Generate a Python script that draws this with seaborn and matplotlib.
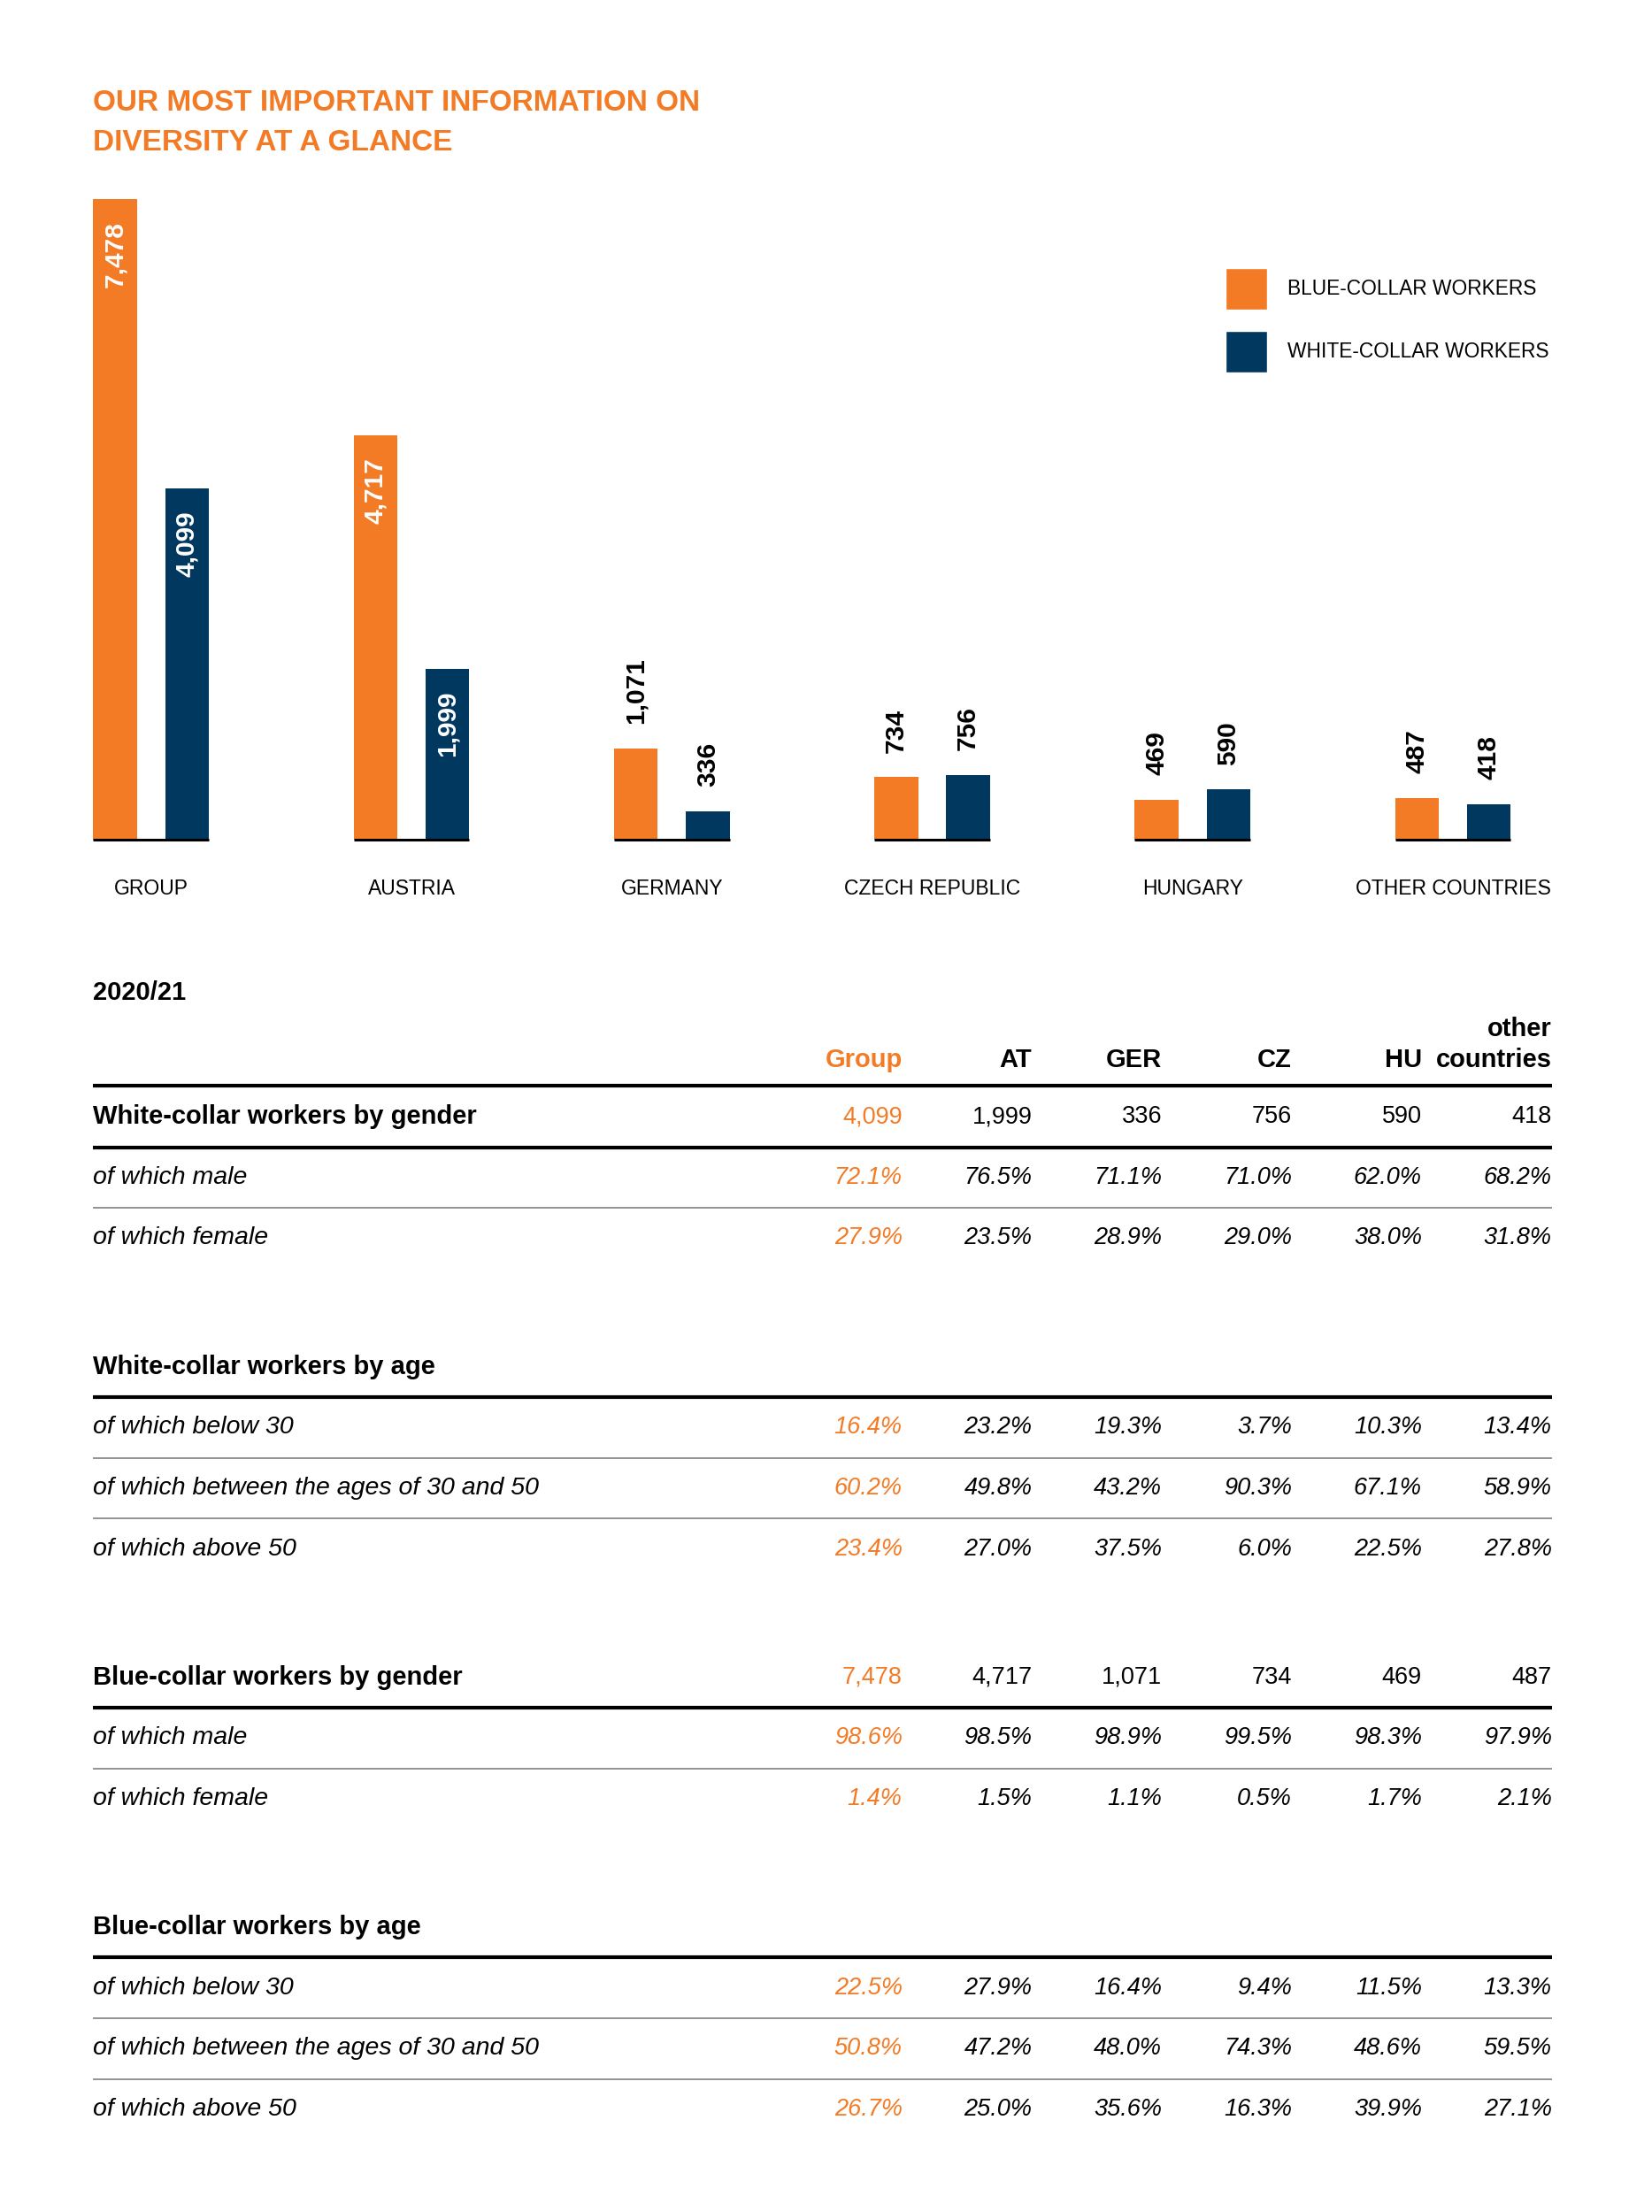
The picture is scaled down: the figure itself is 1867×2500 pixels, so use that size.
"""Diversity at a glance: headcount bars plus breakdown table."""
import matplotlib.pyplot as plt
import pandas as pd
import seaborn as sns
from matplotlib.patches import Patch

ORANGE = "#F37B25"
NAVY = "#00385F"

countries = ["GROUP", "AUSTRIA", "GERMANY", "CZECH REPUBLIC", "HUNGARY", "OTHER COUNTRIES"]
blue_collar = [7478, 4717, 1071, 734, 469, 487]
white_collar = [4099, 1999, 336, 756, 590, 418]

columns = ["Group", "AT", "GER", "CZ", "HU", "other\ncountries"]
wc_male = [72.1, 76.5, 71.1, 71.0, 62.0, 68.2]
wc_female = [27.9, 23.5, 28.9, 29.0, 38.0, 31.8]
wc_below30 = [16.4, 23.2, 19.3, 3.7, 10.3, 13.4]
wc_30to50 = [60.2, 49.8, 43.2, 90.3, 67.1, 58.9]
wc_above50 = [23.4, 27.0, 37.5, 6.0, 22.5, 27.8]
bc_male = [98.6, 98.5, 98.9, 99.5, 98.3, 97.9]
bc_female = [1.4, 1.5, 1.1, 0.5, 1.7, 2.1]
bc_below30 = [22.5, 27.9, 16.4, 9.4, 11.5, 13.3]
bc_30to50 = [50.8, 47.2, 48.0, 74.3, 48.6, 59.5]
bc_above50 = [26.7, 25.0, 35.6, 16.3, 39.9, 27.1]

sections = [
    ("White-collar workers by gender", white_collar,
     [("of which male", wc_male), ("of which female", wc_female)]),
    ("White-collar workers by age", None,
     [("of which below 30", wc_below30),
      ("of which between the ages of 30 and 50", wc_30to50),
      ("of which above 50", wc_above50)]),
    ("Blue-collar workers by gender", blue_collar,
     [("of which male", bc_male), ("of which female", bc_female)]),
    ("Blue-collar workers by age", None,
     [("of which below 30", bc_below30),
      ("of which between the ages of 30 and 50", bc_30to50),
      ("of which above 50", bc_above50)]),
]

sns.set_theme(style="white")
plt.rcParams["font.family"] = ["Liberation Sans", "DejaVu Sans"]
plt.rcParams["text.color"] = "black"

W = 1170  # layout units across the page
H = W * 2500 / 1867
fig = plt.figure(figsize=(18.67, 25), dpi=100)

# ---- bar chart -------------------------------------------------------
pitch = 184.4
first_center = 107
base_y, top_y = 595, 141
ax = fig.add_axes([0, 1 - base_y / H, 1, (base_y - top_y) / H])
ax.patch.set_alpha(0)

df = pd.DataFrame({
    "country": countries * 2,
    "type": ["BLUE-COLLAR WORKERS"] * 6 + ["WHITE-COLLAR WORKERS"] * 6,
    "value": blue_collar + white_collar,
})
sns.barplot(data=df, x="country", y="value", hue="type", palette=[ORANGE, NAVY],
            saturation=1, width=0.553, gap=0.392, errorbar=None, legend=False,
            linewidth=0, ax=ax)
ax.set_xlim(-first_center / pitch, (W - first_center) / pitch)
ax.set_ylim(0, max(blue_collar))
ax.set_xlabel("")
ax.set_ylabel("")
ax.set_yticks([])
ax.tick_params(axis="x", length=0, pad=31, labelsize=16.5, labelcolor="black")
sns.despine(ax=ax, left=True, bottom=True)

for container in ax.containers:
    for bar in container:
        h = bar.get_height()
        xc = bar.get_x() + bar.get_width() / 2
        if h >= 1500:
            ax.annotate(f"{h:,.0f}", (xc, h), xytext=(0, -18), textcoords="offset points",
                        rotation=90, ha="center", va="top", color="white",
                        fontweight="bold", fontsize=21.5, annotation_clip=False)
        else:
            ax.annotate(f"{h:,.0f}", (xc, h), xytext=(0, 20), textcoords="offset points",
                        rotation=90, ha="center", va="bottom", color="black",
                        fontweight="bold", fontsize=21.5, annotation_clip=False)

# black baseline under each pair of bars
for i in range(len(countries)):
    lefts = [c[i].get_x() for c in ax.containers]
    rights = [c[i].get_x() + c[i].get_width() for c in ax.containers]
    ax.hlines(0, min(lefts), max(rights), color="black", lw=2.2, clip_on=False)

handles = [Patch(facecolor=ORANGE), Patch(facecolor=NAVY)]
ax.legend(handles, ["BLUE-COLLAR WORKERS", "WHITE-COLLAR WORKERS"],
          loc="upper left", bbox_to_anchor=(868 / W, 1 - 190 / H),
          bbox_transform=fig.transFigure, frameon=False, fontsize=16.4,
          handlelength=2.05, handleheight=2.8, handletextpad=1.0,
          labelspacing=1.05, borderpad=0, borderaxespad=0)

# ---- title and table -------------------------------------------------
tx = fig.add_axes([0, 0, 1, 1])
tx.set_xlim(0, W)
tx.set_ylim(H, 0)
tx.axis("off")
tx.patch.set_alpha(0)

tx.text(66, 73, "OUR MOST IMPORTANT INFORMATION ON", color=ORANGE, fontsize=24,
        fontweight="bold", va="center", ha="left")
tx.text(66, 101, "DIVERSITY AT A GLANCE", color=ORANGE, fontsize=24,
        fontweight="bold", va="center", ha="left")

FS_NUM = 19.5     # numbers
FS_BOLD = 21      # bold labels and headers
FS_ITAL = 20.5    # italic row labels
left_x, right_x = 66, 1099
col_x = [639, 731, 823, 915, 1007, 1099]

tx.text(left_x, 703, "2020/21", fontsize=FS_BOLD, fontweight="bold", va="center")
for j, (cx, name) in enumerate(zip(col_x, columns)):
    color = ORANGE if j == 0 else "black"
    lines = name.split("\n")
    for k, part in enumerate(reversed(lines)):
        tx.text(cx, 751 - 22 * k, part, fontsize=FS_BOLD, fontweight="bold", color=color,
                ha="right", va="center")
tx.hlines(769, left_x, right_x, color="black", lw=3)

y = 791
step = 43
for title, totals, rows in sections:
    tx.text(left_x, y, title, fontsize=FS_BOLD, fontweight="bold", va="center")
    if totals is not None:
        for j, (cx, v) in enumerate(zip(col_x, totals)):
            tx.text(cx, y, f"{v:,}", fontsize=FS_NUM, ha="right", va="center",
                    color=ORANGE if j == 0 else "black")
    tx.hlines(y + step / 2, left_x, right_x, color="black", lw=3)
    for r, (label, vals) in enumerate(rows):
        ry = y + step * (r + 1)
        tx.text(left_x, ry, label, fontsize=FS_ITAL, fontstyle="italic", va="center")
        for j, (cx, v) in enumerate(zip(col_x, vals)):
            tx.text(cx, ry, f"{v:.1f}%", fontsize=FS_NUM, fontstyle="italic", ha="right",
                    va="center", color=ORANGE if j == 0 else "black")
        if r < len(rows) - 1:
            tx.hlines(ry + step / 2, left_x, right_x, color="#8a8a8a", lw=1.3)
    y = y + step * len(rows) + 91

fig.savefig("out.png", dpi=100)
